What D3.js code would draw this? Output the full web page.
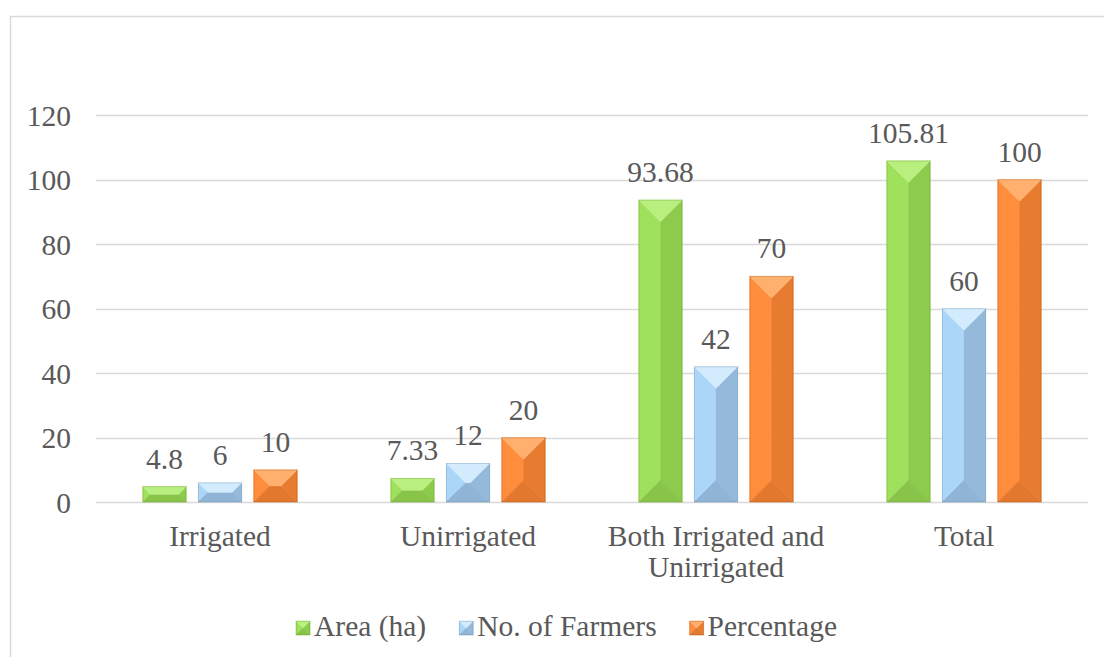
<!DOCTYPE html>
<html>
<head>
<meta charset="utf-8">
<script src="https://cdn.jsdelivr.net/npm/d3@7/dist/d3.min.js"></script>
<style>
  html, body { margin: 0; padding: 0; background: #fff; }
  svg { display: block; }
  text { font-family: "Liberation Serif", "Times New Roman", serif; fill: #595959; }
</style>
</head>
<body>
<svg id="chart" width="1104" height="657"></svg>
<script>
// ---- data ----
const categories = ["Irrigated", "Unirrigated", "Both Irrigated and|Unirrigated", "Total"];
const seriesNames = ["Area (ha)", "No. of Farmers", "Percentage"];
const areaValues = [4.8, 7.33, 93.68, 105.81];
const farmerValues = [6, 12, 42, 60];
const percentValues = [10, 20, 70, 100];
const yTicks = [0, 20, 40, 60, 80, 100, 120];

// ---- styles (facet colours: top, left, right, bottom, edge) ----
const palettes = [
  { top: "#b9ef7f", left: "#9fe05d", right: "#8ccb4c", bottom: "#88c34a", edge: "#6f9e3a" },
  { top: "#d2ecfd", left: "#acd6f8", right: "#95b9db", bottom: "#90b4d6", edge: "#6f8fae" },
  { top: "#ffb06e", left: "#ff8d3b", right: "#e77b30", bottom: "#e2782e", edge: "#b45a1e" }
];
const FS = 29.5;

const seriesValues = [areaValues, farmerValues, percentValues];
const svg = d3.select("#chart");

// outer chart border (extends beyond the photographed area)
svg.append("rect")
  .attr("x", 10.5).attr("y", 16.5).attr("width", 1200).attr("height", 700)
  .attr("fill", "none").attr("stroke", "#d9d9d9").attr("stroke-width", 1.5);

const plot = { left: 96, right: 1088, top: 115, bottom: 502 };

const x = d3.scaleBand().domain(categories).range([plot.left, plot.right]).padding(0);
const y = d3.scaleLinear().domain([0, 120]).range([plot.bottom, plot.top]);

const barW = 43.5;
const barStep = 55.5;

// gridlines
svg.append("g").selectAll("line").data(yTicks).join("line")
  .attr("x1", plot.left).attr("x2", plot.right)
  .attr("y1", d => Math.round(y(d)) + 0.5).attr("y2", d => Math.round(y(d)) + 0.5)
  .attr("stroke", "#d9d9d9").attr("stroke-width", 1.5);

// y axis labels
const yAxis = d3.axisLeft(y).tickValues(yTicks).tickSize(0).tickPadding(0);
const yg = svg.append("g").attr("transform", `translate(71,0)`).call(yAxis);
yg.select(".domain").remove();
yg.selectAll("text")
  .attr("font-size", FS).attr("font-family", "Liberation Serif").attr("fill", "#595959")
  .attr("dy", "0.34em");

// bevelled bar drawer
function bevel(g, bx, by, w, h, pal) {
  const d = Math.min(w / 2, h / 2);
  const pts = {
    top: [[bx, by], [bx + w, by], [bx + w - d, by + d], [bx + d, by + d]],
    left: [[bx, by], [bx + d, by + d], [bx + d, by + h - d], [bx, by + h]],
    right: [[bx + w, by], [bx + w, by + h], [bx + w - d, by + h - d], [bx + w - d, by + d]],
    bottom: [[bx, by + h], [bx + d, by + h - d], [bx + w - d, by + h - d], [bx + w, by + h]]
  };
  ["left", "right", "bottom", "top"].forEach(k => {
    g.append("polygon").attr("points", pts[k].map(p => p.join(",")).join(" "))
      .attr("fill", pal[k]).attr("stroke", pal[k]).attr("stroke-width", 0.5);
  });
  g.append("rect").attr("x", bx + 0.25).attr("y", by + 0.25)
    .attr("width", Math.max(0, w - 0.5)).attr("height", Math.max(0, h - 0.5))
    .attr("fill", "none").attr("stroke", pal.edge).attr("stroke-opacity", 0.45).attr("stroke-width", 0.8);
}

// bars + labels
const barsG = svg.append("g");
const labelsG = svg.append("g");
seriesValues.forEach((vals, si) => {
  vals.forEach((v, ci) => {
    const cx = x(categories[ci]) + x.bandwidth() / 2 + (si - 1) * barStep;
    const bx = cx - barW / 2;
    const top = y(v);
    const h = y(0) - top;
    bevel(barsG.append("g"), bx, top, barW, h, palettes[si]);
    labelsG.append("text")
      .attr("x", cx).attr("y", top - 18)
      .attr("text-anchor", "middle").attr("font-size", FS)
      .text(String(v));
  });
});

// category labels
const catG = svg.append("g");
categories.forEach(c => {
  const lines = c.split("|");
  const t = catG.append("text")
    .attr("x", x(c) + x.bandwidth() / 2).attr("y", 546)
    .attr("text-anchor", "middle").attr("font-size", FS);
  lines.forEach((ln, i) => {
    t.append("tspan").attr("x", x(c) + x.bandwidth() / 2).attr("dy", i === 0 ? 0 : 31).text(ln);
  });
});

// legend
const legG = svg.append("g");
let lx = 296;
const legY = 636;
seriesNames.forEach((name, si) => {
  bevel(legG.append("g"), lx, legY - 15, 14, 14, palettes[si]);
  const t = legG.append("text").attr("x", lx + 18).attr("y", legY).attr("font-size", FS).text(name);
  lx = lx + 18 + t.node().getComputedTextLength() + 33;
});
</script>
</body>
</html>
